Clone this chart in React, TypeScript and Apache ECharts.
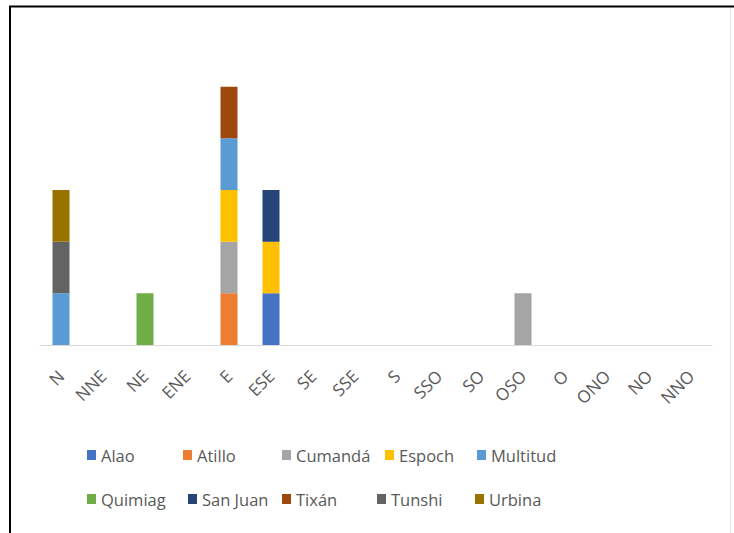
import React, { useEffect, useRef } from "react";
import * as echarts from "echarts";

const categories = ["N", "NNE", "NE", "ENE", "E", "ESE", "SE", "SSE", "S", "SSO", "SO", "OSO", "O", "ONO", "NO", "NNO"];
const seriesNames = ["Alao", "Atillo", "Cumandá", "Espoch", "Multitud", "Quimiag", "San Juan", "Tixán", "Tunshi", "Urbina"];
const colors = ["#4472C4", "#ED7D31", "#A5A5A5", "#FFC000", "#5B9BD5", "#70AD47", "#264478", "#9E480E", "#636363", "#997300"];
const N_ = null;
const alao = [N_, N_, N_, N_, N_, 1, N_, N_, N_, N_, N_, N_, N_, N_, N_, N_];
const atillo = [N_, N_, N_, N_, 1, N_, N_, N_, N_, N_, N_, N_, N_, N_, N_, N_];
const cumanda = [N_, N_, N_, N_, 1, N_, N_, N_, N_, N_, N_, 1, N_, N_, N_, N_];
const espoch = [N_, N_, N_, N_, 1, 1, N_, N_, N_, N_, N_, N_, N_, N_, N_, N_];
const multitud = [1, N_, N_, N_, 1, N_, N_, N_, N_, N_, N_, N_, N_, N_, N_, N_];
const quimiag = [N_, N_, 1, N_, N_, N_, N_, N_, N_, N_, N_, N_, N_, N_, N_, N_];
const sanJuan = [N_, N_, N_, N_, N_, 1, N_, N_, N_, N_, N_, N_, N_, N_, N_, N_];
const tixan = [N_, N_, N_, N_, 1, N_, N_, N_, N_, N_, N_, N_, N_, N_, N_, N_];
const tunshi = [1, N_, N_, N_, N_, N_, N_, N_, N_, N_, N_, N_, N_, N_, N_, N_];
const urbina = [1, N_, N_, N_, N_, N_, N_, N_, N_, N_, N_, N_, N_, N_, N_, N_];
const seriesData = [alao, atillo, cumanda, espoch, multitud, quimiag, sanJuan, tixan, tunshi, urbina];

const legendPos = [
  [87, 446], [183, 446], [282, 446], [385, 446], [477, 446],
  [87, 490], [188, 490], [282, 490], [377, 490], [475, 490],
];

const FONT = "Open Sans";

export default function App() {
  const ref = useRef<HTMLDivElement>(null);
  useEffect(() => {
    const chart = echarts.init(ref.current!, null, { renderer: "svg" });
    chart.setOption({
      animation: false,
      backgroundColor: "#ffffff",
      color: colors,
      grid: { left: 40, right: 22, top: 35, bottom: 188 },
      xAxis: {
        type: "category",
        data: categories,
        axisLine: { lineStyle: { color: "#d9d9d9", width: 1 } },
        axisTick: { show: false },
        axisLabel: { rotate: 45, color: "#595959", fontFamily: FONT, fontSize: 17, margin: 28, interval: 0 },
      },
      yAxis: { type: "value", min: 0, max: 6, show: false, splitLine: { show: false } },
      legend: seriesNames.map((name, i) => ({
        data: [name],
        left: legendPos[i][0],
        top: legendPos[i][1],
        itemWidth: 9,
        itemHeight: 10,
        icon: "rect",
        padding: 0,
        itemGap: 0,
        selectedMode: false,
        textStyle: { color: "#595959", fontFamily: FONT, fontSize: 16.5, lineHeight: 18, padding: [0, 0, 0, 0] },
      })),
      series: seriesNames.map((name, i) => ({
        name,
        type: "bar",
        stack: "total",
        barWidth: 17,
        data: seriesData[i],
        itemStyle: { color: colors[i] },
      })),
      graphic: [
        { type: "line", shape: { x1: 10, y1: 6, x2: 10, y2: 533 }, style: { stroke: "#000", lineWidth: 2 } },
        { type: "line", shape: { x1: 9, y1: 6.5, x2: 734, y2: 6.5 }, style: { stroke: "#000", lineWidth: 2 } },
        { type: "line", shape: { x1: 730.5, y1: 8, x2: 730.5, y2: 533 }, style: { stroke: "#e6e6e6", lineWidth: 1 } },
      ],
    });
    return () => chart.dispose();
  }, []);
  return <div ref={ref} style={{ position: "fixed", left: 0, top: 0, width: 734, height: 533 }} />;
}
